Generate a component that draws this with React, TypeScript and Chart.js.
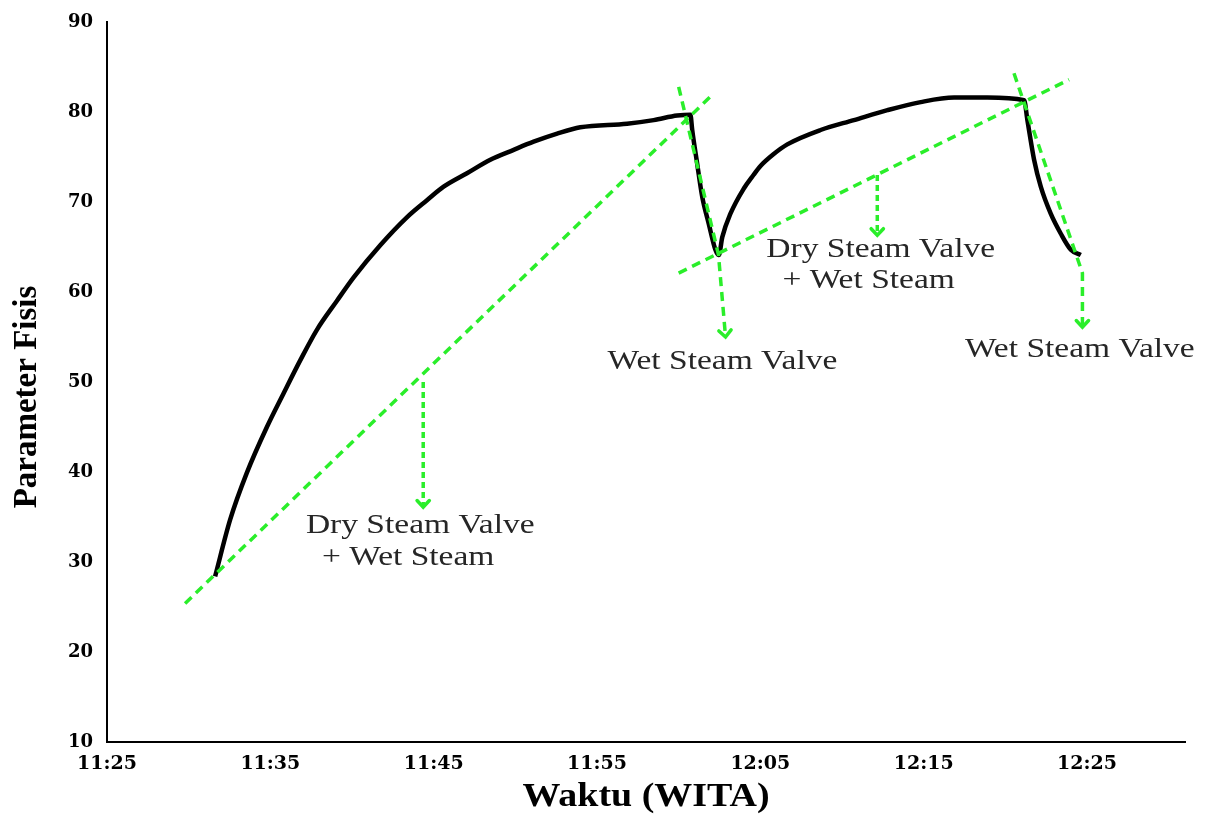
import { useEffect, useRef } from 'react';
import { Chart, registerables } from 'chart.js';

Chart.register(...registerables);

// time in minutes after 11:25
const curveMinutes = [
  6.62, 7.54, 8.56, 9.79, 10.8, 11.83, 12.85, 14.07, 15.09, 16.73, 18.36, 19.59,
  20.61, 22.04, 23.47, 24.9, 26.12, 27.56, 28.98, 31.84, 33.47, 34.91, 35.72,
  35.83, 36.13, 36.44, 36.84, 37.25, 37.46, 37.67, 38.17, 38.99, 39.58, 40.01,
  40.8, 41.65, 43.69, 45.73, 47.78, 49.82, 51.86, 53.9, 56.15, 56.35, 56.76, 57.17,
  57.78, 58.39, 59.01, 59.62,
];
const curveValues = [
  28.4, 34.7, 39.9, 45.0, 48.7, 52.4, 55.8, 59.0, 61.6, 65.2, 68.3, 70.2,
  71.7, 73.2, 74.7, 75.8, 76.7, 77.6, 78.3, 78.7, 79.1, 79.6, 79.7,
  78.0, 74.3, 70.6, 67.6, 64.7, 64.1, 66.1, 68.7, 71.5, 73.0, 74.0,
  75.3, 76.4, 78.0, 79.1, 80.2, 81.1, 81.6, 81.6, 81.3, 79.1, 74.7, 71.7,
  68.7, 66.5, 64.7, 64.1,
];

const xTickValues = [0, 10, 20, 30, 40, 50, 60];
const xTickLabels = ['11:25', '11:35', '11:45', '11:55', '12:05', '12:15', '12:25'];
const xMin = 0;
const xMax = 66;
const yMin = 10;
const yMax = 90;
const yStep = 10;

const xTitle = 'Waktu (WITA)';
const yTitle = 'Parameter Fisis';

// green guide lines (x in minutes after 11:25, y in parameter units)
const guideDry1X = [4.78, 37.05];
const guideDry1Y = [25.4, 81.9];
const guideDry2X = [35.0, 58.9];
const guideDry2Y = [62.1, 83.6];
const guideWet1X = [35.0, 37.44, 37.87];
const guideWet1Y = [82.8, 64.1, 55.0];
const guideWet2X = [55.53, 59.72, 59.72];
const guideWet2Y = [84.3, 62.1, 56.1];
const arrowDry1X = [19.36, 19.36];
const arrowDry1Y = [50.0, 36.1];
const arrowDry2X = [47.16, 47.16];
const arrowDry2Y = [73.0, 66.3];

const noteTexts = ['Dry Steam Valve', '+ Wet Steam', 'Dry Steam Valve', '+ Wet Steam', 'Wet Steam Valve', 'Wet Steam Valve'];
const noteX = [19.18, 18.44, 47.37, 46.63, 37.68, 59.56];
const noteY = [33.2, 29.7, 63.9, 60.4, 51.4, 52.8];

const GREEN = '#2aee2a';
const SERIF = "'Liberation Serif', 'Times New Roman', serif";
const TICK_FONT = "'DejaVu Serif', 'Liberation Serif', serif";

const toPoints = (xs: number[], ys: number[]) => xs.map((x, i) => ({ x, y: ys[i] }));

const annotationPlugin = {
  id: 'steamAnnotations',
  afterDatasetsDraw(chart: any) {
    const ctx = chart.ctx as CanvasRenderingContext2D;
    chart.data.datasets.forEach((ds: any, i: number) => {
      if (!ds.arrowHead) return;
      const pts = chart.getDatasetMeta(i).data;
      if (pts.length < 2) return;
      const tip = pts[pts.length - 1];
      const prev = pts[pts.length - 2];
      const ang = Math.atan2(tip.y - prev.y, tip.x - prev.x);
      const len = 9;
      const spread = 0.75;
      ctx.save();
      ctx.strokeStyle = GREEN;
      ctx.lineWidth = 3.5;
      ctx.lineCap = 'round';
      ctx.beginPath();
      ctx.moveTo(tip.x - len * Math.cos(ang - spread), tip.y - len * Math.sin(ang - spread));
      ctx.lineTo(tip.x, tip.y);
      ctx.lineTo(tip.x - len * Math.cos(ang + spread), tip.y - len * Math.sin(ang + spread));
      ctx.stroke();
      ctx.restore();
    });
  },
  afterDraw(chart: any) {
    const ctx = chart.ctx as CanvasRenderingContext2D;
    const xs = chart.scales.x;
    const ys = chart.scales.y;
    const area = chart.chartArea;
    ctx.save();
    ctx.fillStyle = '#262626';
    ctx.font = `27px ${SERIF}`;
    ctx.textAlign = 'center';
    ctx.textBaseline = 'alphabetic';
    noteTexts.forEach((t, i) => {
      const px = xs.getPixelForValue(noteX[i]);
      const py = ys.getPixelForValue(noteY[i]);
      ctx.save();
      ctx.translate(px, py);
      ctx.scale(1.24, 1);
      ctx.fillText(t, 0, 0);
      ctx.restore();
    });
    // axis titles
    ctx.fillStyle = '#000000';
    ctx.font = `bold 33px ${SERIF}`;
    ctx.textBaseline = 'middle';
    ctx.save();
    ctx.translate((area.left + area.right) / 2, chart.height - 19);
    ctx.scale(1.15, 1);
    ctx.fillText(xTitle, 0, 0);
    ctx.restore();
    ctx.save();
    ctx.translate(27, (area.top + area.bottom) / 2 + 15);
    ctx.rotate(-Math.PI / 2);
    ctx.fillText(yTitle, 0, 0);
    ctx.restore();
    ctx.restore();
  },
};

export default function App() {
  const canvasRef = useRef<HTMLCanvasElement | null>(null);

  useEffect(() => {
    if (!canvasRef.current) return;
    const dashed = (data: any[], dash: number[], arrow: boolean) => ({
      data,
      borderColor: GREEN,
      borderWidth: 3.5,
      borderDash: dash,
      pointRadius: 0,
      tension: 0,
      fill: false,
      arrowHead: arrow,
    });

    const chart = new Chart(canvasRef.current, {
      type: 'line',
      data: {
        datasets: [
          dashed(toPoints(guideDry1X, guideDry1Y), [9, 6], false),
          dashed(toPoints(guideDry2X, guideDry2Y), [9, 6], false),
          dashed(toPoints(guideWet1X, guideWet1Y), [9, 6], true),
          dashed(toPoints(guideWet2X, guideWet2Y), [9, 6], true),
          dashed(toPoints(arrowDry1X, arrowDry1Y), [6, 4], true),
          dashed(toPoints(arrowDry2X, arrowDry2Y), [6, 4], true),
          {
            data: toPoints(curveMinutes, curveValues),
            borderColor: '#000000',
            borderWidth: 4.5,
            pointRadius: 0,
            cubicInterpolationMode: 'monotone',
            fill: false,
          } as any,
        ] as any,
      },
      options: {
        animation: false,
        responsive: false,
        layout: { padding: { left: 0, top: 22, right: 22, bottom: 0 } },
        plugins: {
          legend: { display: false },
          tooltip: { enabled: false },
        },
        scales: {
          x: {
            type: 'linear',
            min: xMin,
            max: xMax,
            afterBuildTicks: (s: any) => {
              s.ticks = xTickValues.map((v) => ({ value: v }));
            },
            afterFit: (s: any) => {
              s.height = 74;
            },
            grid: { display: false },
            border: { display: true, color: '#000000', width: 2 },
            ticks: {
              autoSkip: false,
              maxRotation: 0,
              padding: 3,
              color: '#000000',
              font: { family: TICK_FONT, size: 19, weight: 'bold' },
              callback: (v: any) => {
                const i = xTickValues.indexOf(Number(v));
                return i >= 0 ? xTickLabels[i] : '';
              },
            },
            title: { display: false },
          },
          y: {
            type: 'linear',
            min: yMin,
            max: yMax,
            afterFit: (s: any) => {
              s.width = 107;
            },
            grid: { display: false },
            border: { display: true, color: '#000000', width: 2 },
            ticks: {
              stepSize: yStep,
              padding: 6,
              color: '#000000',
              font: { family: TICK_FONT, size: 18, weight: 'bold' },
            },
            title: { display: false },
          },
        },
      } as any,
      plugins: [annotationPlugin],
    });
    return () => chart.destroy();
  }, []);

  return (
    <div style={{ position: 'absolute', left: 0, top: 0, width: 1207, height: 816, background: '#ffffff' }}>
      <canvas ref={canvasRef} width={1207} height={816} style={{ display: 'block' }} />
    </div>
  );
}
